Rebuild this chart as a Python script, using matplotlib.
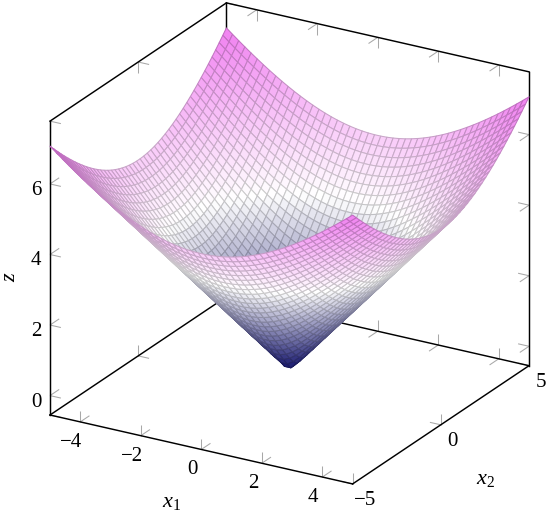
import numpy as np
import matplotlib
matplotlib.use("Agg")
import matplotlib.pyplot as plt
from matplotlib.colors import LinearSegmentedColormap, Normalize
from mpl_toolkits.mplot3d import proj3d

plt.rcParams['font.family'] = ['Liberation Serif', 'DejaVu Serif']
plt.rcParams['mathtext.fontset'] = 'custom'
plt.rcParams['mathtext.rm'] = 'Liberation Serif'
plt.rcParams['mathtext.it'] = 'Liberation Serif:italic'

# Data: the surface is the plotted function z = ||(x1, x2)|| on a regular grid
x1_samples = np.linspace(-5, 5, 50)
x2_samples = np.linspace(-5, 5, 50)
x1_ticks = [-4, -2, 0, 2, 4]
x2_ticks = [-5, 0, 5]
z_ticks = [0, 2, 4, 6]
x1_lim = (-5, 5)
x2_lim = (-5, 5)
z_lim = (-0.55, 7.78)
cmap_colors = ['#19196f', '#ffffff', '#f080f0']


def lab(v):
    return str(v).replace('-', '\u2212')


W, H = 550, 516
fig = plt.figure(figsize=(W / 100, H / 100), dpi=100)
ax = fig.add_axes([0, 0, 1, 1], projection='3d', proj_type='ortho', computed_zorder=False)
ax.set_box_aspect((350, 350, 319))
ax.view_init(elev=23.0, azim=-59.76)
ax.set_xlim(*x1_lim); ax.set_ylim(*x2_lim); ax.set_zlim(*z_lim)
ax.set_axis_off()

X1, X2 = np.meshgrid(x1_samples, x2_samples)
Z = np.hypot(X1, X2)
cmap = LinearSegmentedColormap.from_list('surf', cmap_colors)

xa, xb = x1_lim; ya, yb = x2_lim; za, zb = z_lim
# tick lengths in data units along each axis direction
tx, ty, tz = 0.36, 0.52, 0.31
tick_kw = dict(color='#a8a8a8', lw=0.75, zorder=1, solid_capstyle='butt')
edge_kw = dict(color='black', lw=1.05, zorder=2, solid_capstyle='projecting')


def seg(p, q, **kw):
    ax.plot([p[0], q[0]], [p[1], q[1]], [p[2], q[2]], **kw)


for v in x1_ticks:
    for (y0, dy, z0, dz) in [(ya, ty, za, tz), (yb, -ty, za, tz), (yb, -ty, zb, -tz)]:
        seg((v, y0, z0), (v, y0 + dy, z0), **tick_kw)
        seg((v, y0, z0), (v, y0, z0 + dz), **tick_kw)
for v in x2_ticks:
    for (x0, dx, z0, dz) in [(xa, tx, za, tz), (xb, -tx, za, tz), (xa, tx, zb, -tz)]:
        seg((x0, v, z0), (x0 + dx, v, z0), **tick_kw)
        seg((x0, v, z0), (x0, v, z0 + dz), **tick_kw)
for v in z_ticks:
    for (x0, dx, y0, dy) in [(xa, tx, ya, ty), (xb, -tx, yb, -ty)]:
        seg((x0, y0, v), (x0 + dx, y0, v), **tick_kw)
        seg((x0, y0, v), (x0, y0 + dy, v), **tick_kw)

for p, q in [((xa, ya, za), (xb, ya, za)), ((xb, ya, za), (xb, yb, za)),
             ((xa, ya, za), (xa, yb, za)), ((xa, yb, za), (xb, yb, za)),
             ((xa, ya, za), (xa, ya, zb)), ((xb, yb, za), (xb, yb, zb)),
             ((xa, yb, za), (xa, yb, zb)),
             ((xa, ya, zb), (xa, yb, zb)), ((xa, yb, zb), (xb, yb, zb))]:
    seg(p, q, **edge_kw)

# cell colours from the mean z of each cell; mesh lines are a darker shade of the cell
Zc = (Z[:-1, :-1] + Z[1:, :-1] + Z[:-1, 1:] + Z[1:, 1:]) / 4
face = cmap(Normalize(Z.min(), Z.max())(Zc))
surf = ax.plot_surface(X1, X2, Z, rstride=1, cstride=1, facecolors=face, linewidth=0.75,
                       antialiased=True, shade=False, zorder=3)
edge = face.reshape(-1, 4).copy()
edge[:, :3] *= 0.8
surf.set_edgecolor(edge)
surf.set_linewidth(0.75)

# place the box on the figure: left-bottom corner at (50,415), right-bottom corner at (529,366)
target_a = np.array([50.0, H - 415.0])
target_c = np.array([529.0, H - 366.0])


def px(p):
    M = ax.get_proj()
    u, v, _w = proj3d.proj_transform(p[0], p[1], p[2], M)
    return ax.transData.transform((u, v))


for _ in range(2):
    fig.canvas.draw()
    pa, pc = px((xa, ya, za)), px((xb, yb, za))
    f = (target_c[0] - target_a[0]) / (pc[0] - pa[0])
    b = ax.get_position()
    X0, Y0, S = b.x0 * W, b.y0 * H, b.width * W
    nx = target_a[0] - (pa[0] - X0) * f
    ny = target_a[1] - (pa[1] - Y0) * f
    ax.set_position([nx / W, ny / H, S * f / W, S * f / H])
fig.canvas.draw()


def label(p, dx, dy, s, **kw):
    q = px(p)
    fig.text((q[0] + dx) / W, (q[1] + dy) / H, s, ha='center', va='center', **kw)


fs = 15
for v in x1_ticks:
    label((v, ya, za), -9, -20.5, lab(v), fontsize=fs)
for v in x2_ticks:
    label((xb, v, za), 12, -16.5, lab(v), fontsize=fs)
for v in z_ticks:
    label((xa, ya, v), -14, -6.5, lab(v), fontsize=fs)
label((0, ya, za), -29.5, -53.5, '$x_1$', fontsize=16)
label((xb, 0, za), 45, -55, '$x_2$', fontsize=16)
label((xa, ya, 3.4), -40, -1, '$z$', rotation=90, fontsize=16)

fig.savefig('out.png', dpi=100, facecolor='white')
